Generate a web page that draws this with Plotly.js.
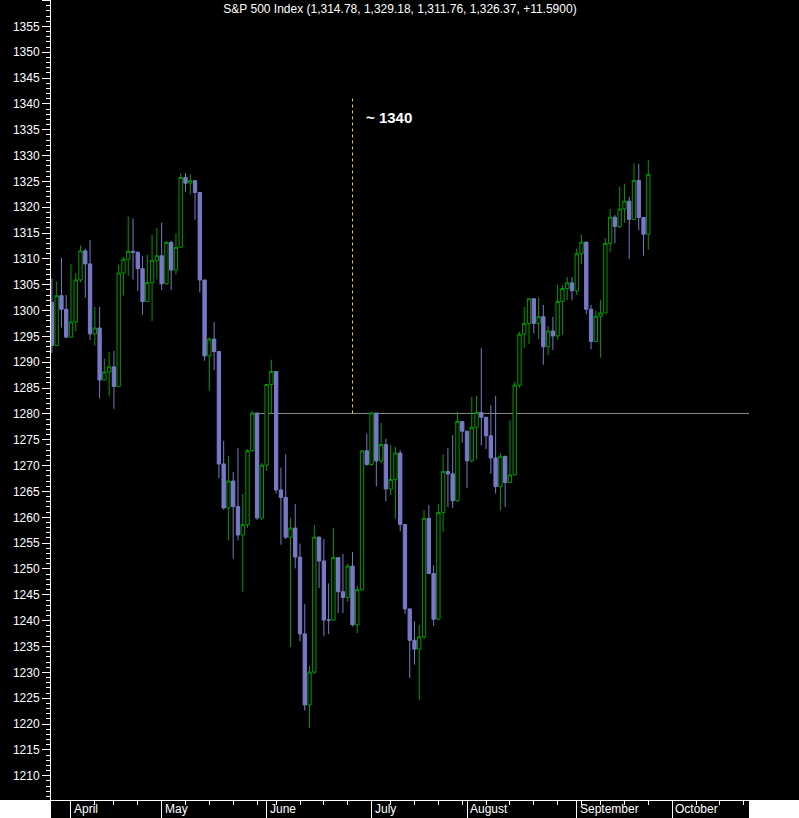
<!DOCTYPE html>
<html>
<head>
<meta charset="utf-8">
<script src="https://cdn.plot.ly/plotly-3.0.1.min.js"></script>
<style>
html,body{margin:0;padding:0;background:#000;}
#chart{width:799px;height:818px;}
</style>
</head>
<body>
<div id="chart"></div>
<script>
const chartTitle = 'S&P 500 Index (1,314.78, 1,329.18, 1,311.76, 1,326.37, +11.5900)';

const dates = [
'2006-03-28','2006-03-29','2006-03-30','2006-03-31',
'2006-04-03','2006-04-04','2006-04-05','2006-04-06','2006-04-07',
'2006-04-10','2006-04-11','2006-04-12','2006-04-13',
'2006-04-17','2006-04-18','2006-04-19','2006-04-20','2006-04-21',
'2006-04-24','2006-04-25','2006-04-26','2006-04-27','2006-04-28',
'2006-05-01','2006-05-02','2006-05-03','2006-05-04','2006-05-05',
'2006-05-08','2006-05-09','2006-05-10','2006-05-11','2006-05-12',
'2006-05-15','2006-05-16','2006-05-17','2006-05-18','2006-05-19',
'2006-05-22','2006-05-23','2006-05-24','2006-05-25','2006-05-26',
'2006-05-30','2006-05-31',
'2006-06-01','2006-06-02',
'2006-06-05','2006-06-06','2006-06-07','2006-06-08','2006-06-09',
'2006-06-12','2006-06-13','2006-06-14','2006-06-15','2006-06-16',
'2006-06-19','2006-06-20','2006-06-21','2006-06-22','2006-06-23',
'2006-06-26','2006-06-27','2006-06-28','2006-06-29','2006-06-30',
'2006-07-03','2006-07-05','2006-07-06','2006-07-07',
'2006-07-10','2006-07-11','2006-07-12','2006-07-13','2006-07-14',
'2006-07-17','2006-07-18','2006-07-19','2006-07-20','2006-07-21',
'2006-07-24','2006-07-25','2006-07-26','2006-07-27','2006-07-28',
'2006-07-31',
'2006-08-01','2006-08-02','2006-08-03','2006-08-04',
'2006-08-07','2006-08-08','2006-08-09','2006-08-10','2006-08-11',
'2006-08-14','2006-08-15','2006-08-16','2006-08-17','2006-08-18',
'2006-08-21','2006-08-22','2006-08-23','2006-08-24','2006-08-25',
'2006-08-28','2006-08-29','2006-08-30','2006-08-31',
'2006-09-01',
'2006-09-05','2006-09-06','2006-09-07','2006-09-08',
'2006-09-11','2006-09-12','2006-09-13','2006-09-14','2006-09-15',
'2006-09-18','2006-09-19','2006-09-20','2006-09-21','2006-09-22',
'2006-09-25'
];

const open = [
1301.61,1293.23,1302.89,1300.25,
1294.87,1297.81,1305.93,1311.56,1309.04,
1295.50,1296.62,1286.57,1288.12,
1289.12,1285.33,1307.28,1309.93,1311.46,
1311.28,1308.11,1301.74,1305.41,1309.72,
1310.61,1305.19,1313.21,1307.85,1312.25,
1325.76,1324.66,1325.14,1322.85,1305.92,
1291.24,1294.50,1292.08,1270.32,1261.81,
1267.03,1262.07,1256.58,1258.57,1272.88,
1280.16,1259.87,
1270.09,1285.71,
1288.22,1265.29,1263.85,1256.15,1257.93,
1252.30,1237.44,1223.69,1230.04,1256.16,
1251.54,1240.13,1240.12,1252.20,1245.60,
1244.50,1250.56,1239.20,1246.00,1272.87,
1270.20,1280.19,1270.91,1274.08,
1265.48,1267.34,1272.43,1258.60,1242.28,
1236.20,1234.49,1236.86,1259.81,1249.13,
1240.29,1260.91,1268.88,1268.40,1263.20,
1278.55,
1276.66,1270.92,1277.41,1280.27,
1279.36,1275.77,1271.48,1265.95,1271.81,
1266.74,1268.21,1285.58,1295.43,1297.48,
1302.30,1297.52,1298.82,1292.99,1296.06,
1295.09,1301.78,1304.28,1305.37,
1303.82,
1311.01,1313.25,1300.26,1294.02,
1298.92,1299.54,1313.00,1318.07,1316.28,
1319.66,1321.18,1317.64,1325.18,1318.03,
1314.78
];

const high = [
1306.2,1305.6,1310.2,1303.0,
1309.0,1307.3,1312.6,1312.0,1313.7,
1300.7,1300.7,1290.7,1292.0,
1292.2,1308.9,1310.4,1318.2,1317.8,
1311.5,1310.6,1310.8,1314.7,1316.0,
1317.0,1313.5,1313.5,1314.9,1326.6,
1326.6,1326.4,1325.2,1322.9,1305.9,
1294.8,1297.8,1292.1,1274.8,1271.9,
1268.8,1273.4,1264.5,1273.2,1280.6,
1280.2,1270.5,
1285.8,1290.5,
1288.2,1269.6,1272.2,1259.9,1262.6,
1254.9,1243.2,1231.2,1258.5,1256.3,
1255.8,1247.2,1257.9,1252.3,1252.9,
1251.0,1253.3,1246.7,1272.9,1276.2,
1280.4,1280.2,1278.3,1275.2,
1274.0,1273.6,1273.0,1258.6,1242.3,
1239.9,1239.2,1261.4,1262.4,1250.7,
1262.6,1272.2,1273.4,1275.9,1280.4,
1278.6,
1276.7,1283.3,1283.5,1292.8,
1279.4,1281.7,1283.5,1272.4,1271.8,
1278.8,1286.2,1295.9,1300.7,1302.3,
1302.3,1302.5,1301.1,1297.0,1298.8,
1305.0,1304.9,1306.5,1306.5,
1312.0,
1314.7,1313.3,1301.1,1300.0,
1302.1,1314.0,1319.7,1318.5,1324.0,
1324.5,1322.0,1328.5,1328.4,1318.0,
1329.18
];

const low = [
1291.8,1293.2,1296.7,1294.6,
1294.8,1296.0,1305.5,1302.5,1294.3,
1293.2,1283.0,1286.5,1283.4,
1281.0,1285.2,1302.9,1306.7,1306.0,
1303.8,1299.2,1301.7,1298.0,1306.0,
1304.0,1305.0,1304.0,1307.0,1312.2,
1323.0,1322.5,1317.6,1303.5,1290.3,
1284.5,1288.5,1267.6,1261.5,1255.5,
1252.0,1255.5,1245.6,1258.0,1272.7,
1259.5,1259.5,
1269.0,1280.0,
1264.6,1254.7,1255.8,1234.9,1250.1,
1236.0,1222.6,1219.2,1229.7,1246.3,
1237.0,1237.4,1240.0,1241.5,1241.5,
1243.6,1238.9,1237.6,1245.8,1270.0,
1270.0,1266.0,1270.5,1263.1,
1264.3,1259.7,1257.3,1241.3,1228.9,
1231.5,1224.6,1236.5,1249.0,1239.0,
1240.2,1257.2,1262.0,1261.8,1263.0,
1274.4,
1265.7,1270.6,1271.2,1273.9,
1273.2,1268.4,1264.6,1261.3,1262.0,
1266.6,1268.1,1285.1,1292.7,1293.5,
1295.6,1294.5,1289.5,1291.4,1292.4,
1294.4,1295.3,1302.0,1302.0,
1303.0,
1309.0,1299.3,1292.5,1294.0,
1290.9,1299.5,1311.3,1313.0,1316.0,
1317.0,1310.0,1317.6,1315.5,1310.6,
1311.76
];

const close = [
1293.23,1302.89,1300.25,1294.87,
1297.81,1305.93,1311.56,1309.04,1295.50,
1296.62,1286.57,1288.12,1289.12,
1285.33,1307.28,1309.93,1311.46,1311.28,
1308.11,1301.74,1305.41,1309.72,1310.61,
1305.19,1313.21,1307.85,1312.25,1325.76,
1324.66,1325.14,1322.85,1305.92,1291.24,
1294.50,1292.08,1270.32,1261.81,1267.03,
1262.07,1256.58,1258.57,1272.88,1280.16,
1259.87,1270.09,
1285.71,1288.22,
1265.29,1263.85,1256.15,1257.93,1252.30,
1237.44,1223.69,1230.04,1256.16,1251.54,
1240.13,1240.12,1252.20,1245.60,1244.50,
1250.56,1239.20,1246.00,1272.87,1270.20,
1280.19,1270.91,1274.08,1265.48,
1267.34,1272.43,1258.60,1242.28,1236.20,
1234.49,1236.86,1259.81,1249.13,1240.29,
1260.91,1268.88,1268.40,1263.20,1278.55,
1276.66,
1270.92,1277.41,1280.27,1279.36,
1275.77,1271.48,1265.95,1271.81,1266.74,
1268.21,1285.58,1295.43,1297.48,1302.30,
1297.52,1298.82,1292.99,1296.06,1295.09,
1301.78,1304.28,1305.37,1303.82,
1311.01,
1313.25,1300.26,1294.02,1298.92,
1299.54,1313.00,1318.07,1316.28,1319.66,
1321.18,1317.64,1325.18,1318.03,1314.78,
1326.37
];

const holidays = ['2006-04-14','2006-05-29','2006-07-04','2006-09-04'];
const monthStarts = ['2006-04-03','2006-05-01','2006-06-01','2006-07-03','2006-08-01','2006-09-01','2006-10-02'];
const monthNames = ['April','May','June','July','August','September','October'];
const weekStarts = ['2006-04-10','2006-04-17','2006-04-24',
  '2006-05-08','2006-05-15','2006-05-22','2006-05-30',
  '2006-06-05','2006-06-12','2006-06-19','2006-06-26',
  '2006-07-10','2006-07-17','2006-07-24','2006-07-31',
  '2006-08-07','2006-08-14','2006-08-21','2006-08-28',
  '2006-09-05','2006-09-11','2006-09-18','2006-09-25',
  '2006-10-09','2006-10-16','2006-10-23'];

const supportLevel = 1280.1;
const supportStart = '2006-05-26';
const targetLevel = 1341.2;
const targetDate = '2006-06-27';
const targetLabel = '~ 1340';
const targetLabelPos = ['2006-06-29 10:00', 1337.4];

const xRange = ['2006-03-27 19:30', '2006-10-24 02:30'];
const yRange = [1205.3, 1360.1];

const GREEN = '#009a00';
const LAV = '#7878c8';
const WHITE = '#ffffff';

const trace = {
  type: 'candlestick',
  x: dates, open: open, high: high, low: low, close: close,
  increasing: {line: {color: GREEN, width: 1}, fillcolor: '#000000'},
  decreasing: {line: {color: LAV, width: 1}, fillcolor: LAV},
  whiskerwidth: 0,
  hoverinfo: 'skip',
  showlegend: false
};

const axisFont = {family: 'Liberation Sans, Arial, sans-serif', size: 12, color: WHITE};

const yCommon = {
  range: yRange, autorange: false, fixedrange: true,
  tickmode: 'linear', tick0: 1205, dtick: 5,
  ticks: 'outside', ticklen: 8, tickwidth: 1, tickcolor: WHITE,
  showline: true, linecolor: WHITE, linewidth: 1,
  showgrid: false, zeroline: false,
  tickfont: axisFont, automargin: false,
  minor: {ticks: 'outside', ticklen: 4, tickwidth: 1, tickcolor: WHITE, dtick: 1, tick0: 1205, showgrid: false}
};

const annotations = monthStarts.map((d, i) => ({
  x: d, xref: 'x', y: -9/800, yref: 'paper',
  text: monthNames[i], showarrow: false, xanchor: 'left', yanchor: 'middle', xshift: 1,
  font: axisFont
}));
annotations.push({
  x: targetLabelPos[0], y: targetLabelPos[1], xref: 'x', yref: 'y',
  text: targetLabel, showarrow: false, xanchor: 'left', yanchor: 'middle',
  font: {family: 'Liberation Sans, Arial, sans-serif', size: 15, color: WHITE, weight: 'bold'}
});

const shapes = [
  {type: 'line', xref: 'x', yref: 'y', x0: supportStart, x1: xRange[1], y0: supportLevel, y1: supportLevel,
   line: {color: '#8c8c8c', width: 1}, layer: 'below'},
  {type: 'line', xref: 'x', yref: 'y', x0: targetDate, x1: targetDate, y0: supportLevel, y1: targetLevel,
   line: {color: '#ffcc00', width: 1, dash: '3px,3px'}},
  {type: 'rect', xref: 'paper', yref: 'paper', x0: -51/698, x1: 0, y0: -18/800, y1: 0,
   fillcolor: WHITE, line: {width: 0}, layer: 'above'},
  {type: 'rect', xref: 'paper', yref: 'paper', x0: 1, x1: 1 + 50/698, y0: -18/800, y1: 0,
   fillcolor: WHITE, line: {width: 0}, layer: 'above'}
];

const layout = {
  width: 799, height: 818,
  margin: {l: 51, r: 50, t: 0, b: 18, pad: 0},
  paper_bgcolor: '#000000', plot_bgcolor: '#000000',
  showlegend: false,
  boxgap: 0.3, boxgroupgap: 0,
  title: {text: chartTitle, x: 0.5, xref: 'paper', y: 1 - 9/818, yref: 'container', yanchor: 'middle', xanchor: 'center',
          font: {family: 'Liberation Sans, Arial, sans-serif', size: 12, color: WHITE}},
  xaxis: {
    type: 'date', range: xRange, autorange: false, fixedrange: true,
    rangeslider: {visible: false},
    rangebreaks: [{bounds: ['sat', 'mon']}, {values: holidays, dvalue: 86400000}],
    tickmode: 'array', tickvals: monthStarts, showticklabels: false,
    ticks: 'outside', ticklen: 18, tickwidth: 1, tickcolor: WHITE,
    minor: {tickmode: 'array', tickvals: weekStarts, ticks: 'outside', ticklen: 4, tickwidth: 1, tickcolor: WHITE, showgrid: false},
    showline: true, linecolor: WHITE, linewidth: 1,
    showgrid: false, zeroline: false, automargin: false
  },
  yaxis: Object.assign({}, yCommon, {side: 'left'}),
  yaxis2: Object.assign({}, yCommon, {side: 'right', overlaying: 'y'}),
  annotations: annotations,
  shapes: shapes
};

Plotly.newPlot('chart', [trace], layout, {displayModeBar: false, staticPlot: true});
</script>
</body>
</html>
